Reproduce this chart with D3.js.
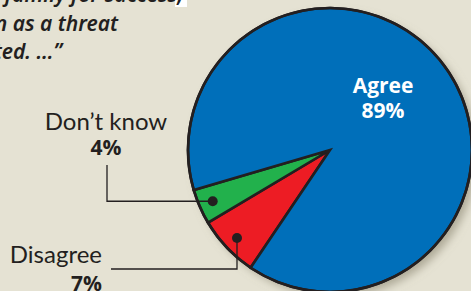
<!DOCTYPE html>
<html lang="en">
<head>
  <meta charset="UTF-8">
  <title>Pie</title>
  <style>
    body { margin: 0; background: #e5e2d3; }
    svg { display: block; }
  </style>
</head>
<body>
<script src="https://d3js.org/d3.v7.min.js"></script>
<div class="chart-container"></div>
<script>
  // data, in drawing order (clockwise from the lower left)
  const categories = ["Disagree", "Don\u2019t know", "Agree"];
  const values = [7, 4, 89];
  const colors = ["#ed1c24", "#22b14c", "#006fba"];
  const quoteLines = ["for the whole family for success,", "is seen as a threat", "to be resisted. \u2026\u201d"];

  const width = 471, height = 291;
  const cx = 330, cy = 150, r = 142;

  const svg = d3.select(".chart-container")
          .append("svg")
          .attr("width", width)
          .attr("height", height);

  svg.append("rect")
          .attr("width", width)
          .attr("height", height)
          .attr("fill", "#e5e2d3");

  const defs = svg.append("defs");
  const f = defs.append("filter").attr("id", "shadow")
          .attr("x", "-20%").attr("y", "-20%").attr("width", "140%").attr("height", "140%");
  f.append("feGaussianBlur").attr("in", "SourceAlpha").attr("stdDeviation", 4);
  f.append("feOffset").attr("dx", 5).attr("dy", 5).attr("result", "ob");
  f.append("feFlood").attr("flood-color", "#8a8570").attr("flood-opacity", 0.6);
  f.append("feComposite").attr("in2", "ob").attr("operator", "in");
  const m = f.append("feMerge");
  m.append("feMergeNode");
  m.append("feMergeNode").attr("in", "SourceGraphic");

  // quote text, cut off at the top-left
  svg.append("rect")
          .attr("x", 175).attr("y", 0).attr("width", 12).attr("height", 7)
          .attr("fill", "#fff");
  const qx = [183, 118, 62];
  svg.selectAll("text.quote")
          .data(quoteLines)
          .join("text")
          .attr("class", "quote")
          .attr("x", (d, i) => qx[i])
          .attr("y", (d, i) => 2 + i * 28.5)
          .attr("text-anchor", "end")
          .attr("font-family", "Noto Sans")
          .attr("font-style", "italic")
          .attr("font-weight", 600)
          .attr("font-size", 21)
          .attr("fill", "#231f20")
          .text(d => d);

  const data = categories.map((c, i) => ({ name: c, value: values[i], color: colors[i] }));
  const deg = Math.PI / 180;
  const pie = d3.pie().sort(null).value(d => d.value)
          .startAngle(214 * deg).endAngle(574 * deg);
  const arcs = pie(data);
  const arc = d3.arc().innerRadius(0).outerRadius(r);
  const dotArc = d3.arc().innerRadius(128).outerRadius(128);

  const g = svg.append("g").attr("transform", `translate(${cx},${cy})`);

  g.append("circle").attr("r", r).attr("fill", "#006fba").attr("filter", "url(#shadow)");

  g.selectAll("path.slice")
          .data(arcs)
          .join("path")
          .attr("class", "slice")
          .attr("d", arc)
          .attr("fill", d => d.data.color)
          .attr("stroke", "#231f20")
          .attr("stroke-width", 2.6)
          .attr("stroke-linejoin", "miter");

  g.append("circle").attr("r", r).attr("fill", "none")
          .attr("stroke", "#231f20").attr("stroke-width", 2.6);

  // leader lines
  const pGreen = dotArc.centroid(arcs[1]);
  const pRed = dotArc.centroid(arcs[0]);
  const line = d3.line();
  const gx = cx + pGreen[0], gy = cy + pGreen[1];
  const rx = cx + pRed[0], ry = cy + pRed[1];

  svg.append("path")
          .attr("d", line([[107, 165], [107, gy], [gx, gy]]))
          .attr("fill", "none").attr("stroke", "#231f20").attr("stroke-width", 1.3);
  svg.append("path")
          .attr("d", line([[111, 269], [rx, 269], [rx, ry]]))
          .attr("fill", "none").attr("stroke", "#231f20").attr("stroke-width", 1.3);

  svg.selectAll("circle.dot")
          .data([[gx, gy], [rx, ry]])
          .join("circle")
          .attr("class", "dot")
          .attr("cx", d => d[0]).attr("cy", d => d[1])
          .attr("r", 5)
          .attr("fill", "#231f20");

  const pct = d => d.value + "%";

  // Don't know
  svg.append("text")
          .attr("x", 106).attr("y", 130)
          .attr("text-anchor", "middle")
          .attr("font-family", "Lato").attr("font-weight", 400).attr("font-size", 24)
          .attr("fill", "#231f20")
          .text(data[1].name);
  svg.append("text")
          .attr("x", 106).attr("y", 155)
          .attr("text-anchor", "middle")
          .attr("font-family", "Open Sans").attr("font-weight", 700).attr("font-size", 21)
          .attr("fill", "#231f20")
          .text(pct(data[1]));

  // Disagree
  svg.append("text")
          .attr("x", 102).attr("y", 263)
          .attr("text-anchor", "end")
          .attr("font-family", "Lato").attr("font-weight", 400).attr("font-size", 24)
          .attr("fill", "#231f20")
          .text(data[0].name);
  svg.append("text")
          .attr("x", 102).attr("y", 291)
          .attr("text-anchor", "end")
          .attr("font-family", "Open Sans").attr("font-weight", 700).attr("font-size", 21)
          .attr("fill", "#231f20")
          .text(pct(data[0]));

  // Agree
  svg.selectAll("text.agree")
          .data([data[2].name, pct(data[2])])
          .join("text")
          .attr("class", "agree")
          .attr("x", 383)
          .attr("y", (d, i) => 93 + i * 25)
          .attr("text-anchor", "middle")
          .attr("font-family", "Open Sans").attr("font-weight", 700).attr("font-size", 21)
          .attr("fill", "#fff")
          .text(d => d);
</script>
</body>
</html>
